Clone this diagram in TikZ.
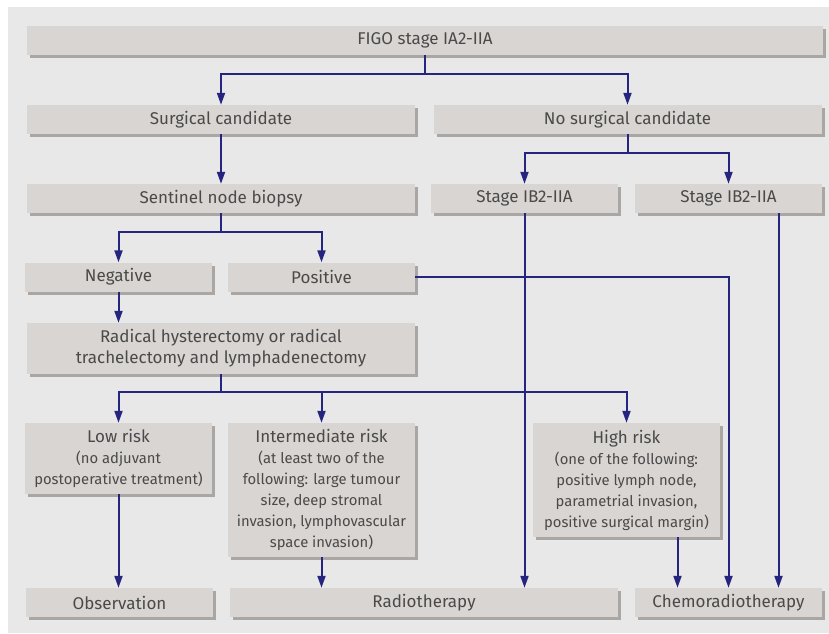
\documentclass[tikz,border=0pt]{standalone}
\usepackage{fontspec}
\setmainfont{Fira Sans}
\usepackage{tikz}
\usetikzlibrary{arrows.meta,positioning,calc,shadows}
\definecolor{PathNavy}{HTML}{25257F}
\definecolor{PathBox}{HTML}{D9D5D2}
\definecolor{PathShade}{HTML}{A9A6A4}
\definecolor{PathBack}{HTML}{E8E8E8}
\definecolor{PathText}{HTML}{4A4A4A}
\newcommand{\headfont}{\fontsize{17}{21}\selectfont}
\newcommand{\riskfont}{\fontsize{14.8}{21}\selectfont}
\tikzset{
  flow/.style={-{Triangle[length=12pt,width=8pt]}, line width=2pt, draw=PathNavy},
  stage/.style={fill=PathBox, text=PathText, inner sep=0pt, minimum height=29pt,
                align=center, font=\headfont,
                drop shadow={shadow xshift=3pt, shadow yshift=-3pt, fill=PathShade, opacity=1}},
  wide/.style={stage, minimum width=388pt},
  narrow/.style={stage, minimum width=187pt},
  risk/.style={narrow, font=\riskfont},
}

\begin{document}
\begin{tikzpicture}[x=1pt,y=-1pt]
    \useasboundingbox (0,0) rectangle (829,633);
    \fill[PathBack] (8,7) rectangle (829,633);
    \node[stage,minimum width=796pt] (figo) at (425,40.5) {FIGO stage IA2-IIA};
    \node[wide] (surg) at (221,119.5) {Surgical candidate};
    \node[wide] (nosurg) at (627.5,119.5) {No surgical candidate};
    \node[wide] (sent) at (221,198.5) {Sentinel node biopsy};
    \node[narrow] (ibleft) at (524.5,198.5) {Stage IB2-IIA};
    \node[narrow] (ibright) at (728.5,198.5) {Stage IB2-IIA};
    \node[narrow] (neg) at (118.5,277) {Negative};
    \node[narrow] (pos) at (321.5,277) {Positive};
    \node[wide,minimum height=51pt] (radical) at (221,348.5)
      {Radical hysterectomy or radical\\trachelectomy and lymphadenectomy};
    \node[risk,minimum height=71pt] (low) at (118.5,458.5)
      {{\headfont Low risk}\\(no adjuvant\\postoperative treatment)};
    \node[risk,minimum height=134pt] (inter) at (321.5,490)
      {{\headfont Intermediate risk}\\(at least two of the\\following: large tumour\\size, deep stromal\\invasion, lymphovascular\\space invasion)};
    \node[risk,minimum height=114pt] (high) at (626.5,480)
      {{\headfont High risk}\\(one of the following:\\positive lymph node,\\parametrial invasion,\\positive surgical margin)};
    \node[narrow] (obs) at (119.5,602.5) {Observation};
    \node[wide] (radio) at (424,602.5) {Radiotherapy};
    \node[narrow] (chemo) at (728.5,602.5) {Chemoradiotherapy};
    % first split
    \draw[flow] (figo.south) -- ++(0,19) -| (surg);
    \draw[flow] (figo.south) -- ++(0,19) -| (nosurg);
    \draw[flow] (surg) -- (sent);
    \draw[flow] (nosurg.south) -- ++(0,19) -| (ibleft);
    \draw[flow] (nosurg.south) -- ++(0,19) -| (ibright);
    % sentinel node result
    \draw[flow] (sent.south) -- ++(0,19) -| (neg);
    \draw[flow] (sent.south) -- ++(0,19) -| (pos);
    \draw[flow] (pos.east) -| (chemo);
    \draw[flow] (neg) -- (neg |- radical.north);
    % risk groups
    \draw[flow] (radical.south) -- ++(0,18) -| (low);
    \draw[flow] (radical.south) -- ++(0,18) -| (inter);
    \draw[flow] (radical.south) -- ++(0,18) -| (high);
    % treatment
    \draw[flow] (low) -- (low |- obs.north);
    \draw[flow] (inter) -- (inter |- radio.north);
    \draw[flow] (ibleft) -- (ibleft |- radio.north);
    \draw[flow] ([xshift=51pt]high.south) -- ([xshift=51pt]high.south |- chemo.north);
    \draw[flow] ([xshift=50pt]ibright.south) -- ([xshift=50pt]ibright.south |- chemo.north);
\end{tikzpicture}
\end{document}
